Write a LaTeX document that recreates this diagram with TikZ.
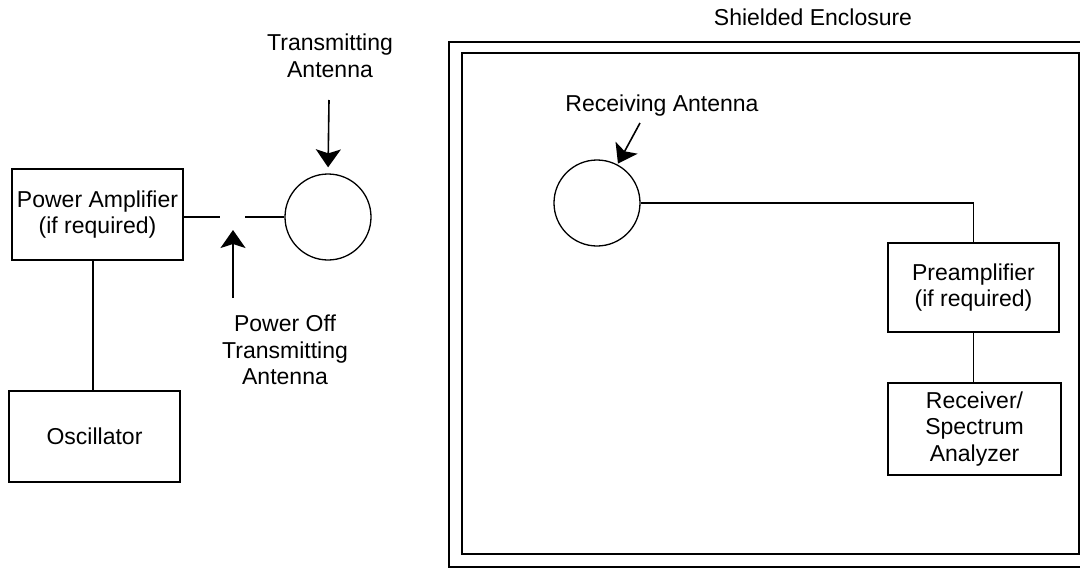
\documentclass[tikz,border=0pt]{standalone}
\usepackage{fontspec}
\setmainfont{Liberation Sans}
\usetikzlibrary{arrows.meta}
\begin{document}
\begin{tikzpicture}[x=1pt,y=-1pt,
  every node/.style={font=\fontsize{23}{26.5}\selectfont, align=center, inner sep=0pt},
  box/.style={draw, line width=1.3pt, rectangle},
  antenna/.style={draw, line width=1.3pt, circle, minimum size=86pt},
  wire/.style={line width=1.3pt},
  wall/.style={line width=1.5pt},
  pointer/.style={line width=1.6pt, -{Stealth[length=18pt,width=25pt,inset=4pt]}}]
\useasboundingbox (0,0) rectangle (1080,568);

% shielded enclosure: double wall
\draw[wall] (449,42) rectangle (1095,567);
\draw[wall] (462,53) rectangle (1079,554);
\node (encl) at (813,17) {Shielded Enclosure};

% transmitting side
\node[box, minimum width=171pt, minimum height=91pt] (pa) at (97.5,214.5) {Power Amplifier\\(if required)};
\node[box, minimum width=171pt, minimum height=91pt] (osc) at (94.5,436.5) {Oscillator};
\node[antenna] (tx) at (328,217) {};

\coordinate (v) at (93,0);
\draw[wire] (pa.south -| v) -- (osc.north -| v);

% feed line with the break where power is removed
\coordinate (g1) at (220,217);
\coordinate (g2) at (245,217);
\coordinate (gap) at (233,217);
\draw[wire] (pa.east |- g1) -- (g1);
\draw[wire] (g2) -- (tx.west);

\node (txl) at (330,56) {Transmitting\\Antenna};
\coordinate (txa) at (329,100);
\draw[pointer, shorten >=6pt] (txa) -- (tx.north);

\node (offl) at (285,350) {Power Off\\Transmitting\\Antenna};
\coordinate (offa) at (233,298);
\draw[pointer, shorten >=13pt] (offa) -- (gap);

% receiving side
\node[antenna] (rx) at (597,203) {};
\node (rxl) at (662,106) {Receiving Antenna};
\coordinate (rxa) at (640,123);
\draw[pointer, shorten >=1pt] (rxa) -- (rx.62);

\node[box, minimum width=171pt, minimum height=89pt] (pre) at (973.5,287.5) {Preamplifier\\(if required)};
\node[box, minimum width=173pt, minimum height=92pt] (rcv) at (974.5,429) {Receiver/\\Spectrum\\Analyzer};

\draw[wire] (rx.east) -| (pre.north);
\draw[wire] (pre.south) -- (pre.south |- rcv.north);
\end{tikzpicture}
\end{document}
